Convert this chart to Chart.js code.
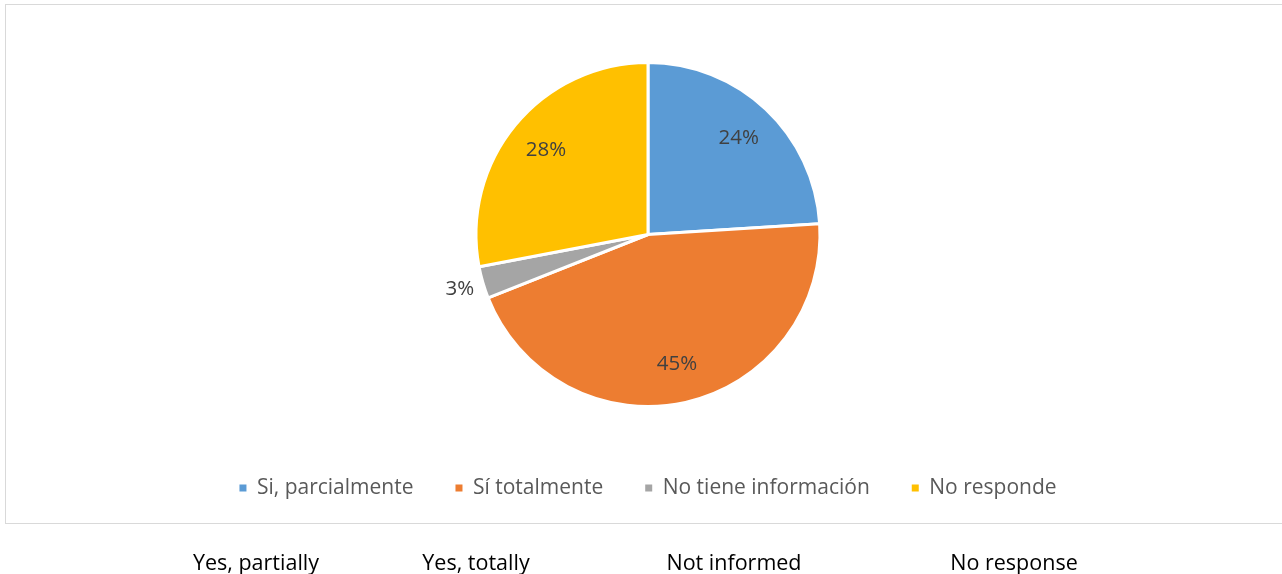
<!DOCTYPE html>
<html>
<head>
<meta charset="utf-8">
<script src="https://cdn.jsdelivr.net/npm/chart.js@4.4.1/dist/chart.umd.min.js"></script>
<style>
  html, body { margin: 0; padding: 0; background: #fff; }
  body { width: 1282px; height: 574px; position: relative; overflow: hidden; font-family: "Open Sans", sans-serif; }
  #frame { position: absolute; left: 5px; top: 4px; width: 1290px; height: 518px; border: 1.5px solid #d9d9d9; pointer-events: none; }
  #wrap { position: absolute; left: 0; top: 0; width: 1282px; height: 574px; }
  .en { position: absolute; top: 547px; font-size: 21.5px; color: #000; white-space: nowrap; transform: translateX(-50%); }
</style>
</head>
<body>
<div id="wrap"><canvas id="pie"></canvas></div>
<div id="frame"></div>
<div id="english"></div>
<script>
// answers (percent)
const categories = ['Si, parcialmente', 'Sí totalmente', 'No tiene información', 'No responde'];
const shares = [24, 45, 3, 28];
const englishLabels = ['Yes, partially', 'Yes, totally', 'Not informed', 'No response'];
const englishCenters = [256, 476, 734, 1014];
const sliceColors = ['#5B9BD5', '#ED7D31', '#A5A5A5', '#FFC000'];

// percent labels: inside the slice, or just outside when the slice is thin
const pctLabels = {
  id: 'pctLabels',
  afterDatasetsDraw(chart) {
    const ctx = chart.ctx;
    const meta = chart.getDatasetMeta(0);
    ctx.save();
    ctx.font = '20.5px "Open Sans", sans-serif';
    ctx.fillStyle = '#404040';
    ctx.textAlign = 'center';
    ctx.textBaseline = 'middle';
    meta.data.forEach((arc, i) => {
      const p = arc.getProps(['x', 'y', 'startAngle', 'endAngle', 'outerRadius'], true);
      const mid = (p.startAngle + p.endAngle) / 2;
      const v = chart.data.datasets[0].data[i];
      const r = v < 5 ? p.outerRadius + 24 : p.outerRadius * 0.77;
      ctx.fillText(v + '%', p.x + Math.cos(mid) * r, p.y + Math.sin(mid) * r);
    });
    ctx.restore();
  }
};

// legend squares without the white slice border
const defaultLabels = Chart.overrides.pie.plugins.legend.labels.generateLabels;

new Chart(document.getElementById('pie'), {
  type: 'pie',
  data: {
    labels: categories,
    datasets: [{
      data: shares,
      backgroundColor: sliceColors,
      borderColor: '#ffffff',
      borderWidth: 3,
      radius: 172
    }]
  },
  options: {
    responsive: true,
    maintainAspectRatio: false,
    animation: false,
    layout: { padding: { top: 33.5, bottom: 65.5, left: 14, right: 0 } },
    plugins: {
      tooltip: { enabled: false },
      legend: {
        position: 'bottom',
        labels: {
          boxWidth: 7,
          boxHeight: 7,
          padding: 42,
          color: '#595959',
          font: { family: '"Open Sans", sans-serif', size: 21 },
          generateLabels: (chart) => defaultLabels(chart).map(l => ({ ...l, lineWidth: 0 }))
        }
      }
    }
  },
  plugins: [pctLabels]
});

const en = document.getElementById('english');
englishLabels.forEach((t, i) => {
  const s = document.createElement('span');
  s.className = 'en';
  s.textContent = t;
  s.style.left = englishCenters[i] + 'px';
  en.appendChild(s);
});
</script>
</body>
</html>
